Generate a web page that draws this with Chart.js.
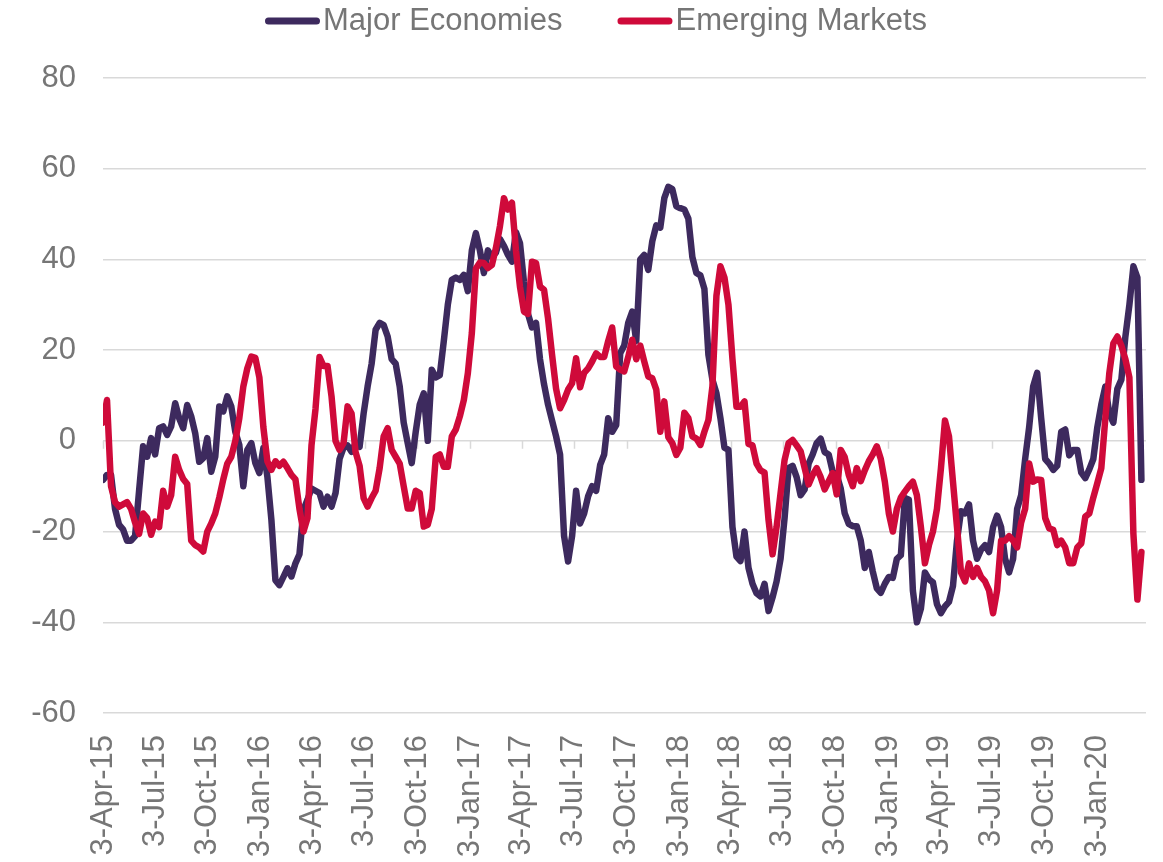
<!DOCTYPE html>
<html>
<head>
<meta charset="utf-8">
<script src="https://cdn.jsdelivr.net/npm/chart.js@4.4.1/dist/chart.umd.min.js"></script>
<style>
  html, body { margin: 0; padding: 0; background: #fff; }
  #wrap { width: 1163px; height: 862px; }
</style>
</head>
<body>
<div id="wrap"><canvas id="chart" width="1163" height="862"></canvas></div>
<script>
// weekly observations, first one on the start date
const startDate = '3-Apr-15';
const axisEnd = '28-Mar-20';

const majorEconomies = [
    -8.6, -7.5, -7.5, -15, -18.5, -19.5, -22, -22, -21, -11, -1.2, -3.5, 0.6,
    -3, 2.8, 3.2, 1.3, 3.2, 8.3, 5, 2.8, 7.9, 5.4, 1.7, -4.6, -3.8,
    0.6, -6.8, -3.5, 7.6, 6.5, 9.8, 7.6, 2, -0.9, -10, -2, -0.5, -4.9,
    -7.1, -1.6, -7.9, -17.4, -30.7, -31.8, -30, -28.1, -29.9, -27, -25, -15.2, -13,
    -10.5, -11, -11.5, -14.5, -12.3, -14.5, -11.5, -4, -1.5, -1, -2.4, -0.5, -1.3,
    6, 12, 17, 24.5, 26, 25.5, 23, 18, 17, 12, 4, -0.5, -4.9,
    2, 8, 10.5, 0, 15.7, 14, 14.5, 22, 30, 35.5, 36, 35.5, 36.6,
    33, 42, 45.8, 42, 37, 42, 40.5, 41.5, 44.5, 43, 41, 39.5, 46,
    43.6, 35, 28, 25, 26, 18, 12.5, 8, 4.5, 1, -3, -21, -26.6,
    -21, -11, -18.2, -16, -12.2, -10, -11, -5.3, -3, 5, 2, 3.5, 19.3,
    21, 26, 28.5, 22, 40, 41, 37.7, 44, 47.5, 47, 53.5, 56, 55.5,
    51.7, 51.3, 51, 49, 40.5, 37, 36.5, 33.5, 19, 13.5, 10.5, 5, -1.5,
    -2, -19, -25.5, -26.5, -20, -28, -31.5, -33.6, -34.3, -31.5, -37.5, -34.5, -31,
    -26, -17, -6, -5.5, -8, -12, -10.7, -5, -3, -0.5, 0.5, -2.5, -3,
    -6.8, -7.5, -10.5, -16, -18.3, -18.8, -18.8, -22, -28, -24.5, -28.8, -32.5, -33.5,
    -31.5, -30, -30.2, -26, -25.2, -12.6, -13, -33, -40, -37, -29, -30.5, -31.2,
    -36, -38, -36.5, -35.5, -32, -22, -15.5, -16, -14, -22, -26, -24, -23,
    -24.5, -19, -16.5, -19, -26, -29, -26, -15, -12, -4, 3, 12, 15,
    5, -4, -5, -6.4, -5.5, 2, 2.5, -3.2, -2, -2, -7, -8.2, -6.3,
    -4, 3, 8, 12, 6, 4, 11.5, 13.5, 23, 30, 38.5, 36, -8.6
];

const emergingMarkets = [
    4, 9, -10, -13.5, -14.5, -14, -13.5, -15, -18, -20.5, -16, -17, -20.7,
    -17.8, -19, -11, -14.5, -12, -3.5, -6.4, -8.4, -9.5, -22, -23, -23.5, -24.4,
    -20, -18.2, -16, -12.5, -8.5, -5, -3.5, 0, 5, 12, 16, 18.6, 18.3,
    14, 3, -4.5, -6.4, -4.5, -5.5, -4.6, -6, -7.5, -8.5, -15, -20, -17,
    -1, 7, 18.5, 16.5, 16.5, 9.8, 0, -2, -0.5, 7.6, 6, -2.5, -5.5,
    -12.6, -14.5, -12.6, -11, -6, 1, 2.8, -2, -3.5, -5, -10, -14.9, -14.9,
    -11, -11.5, -18.9, -18.5, -15, -3.5, -3, -5.7, -5.7, 1, 2.5, 5.4, 9,
    14.9, 23.8, 38, 39.3, 39.2, 38.1, 38.8, 42.5, 47.3, 53.5, 51, 52.5, 42,
    34, 28.5, 28, 39.5, 39.2, 34, 33.3, 27, 19, 11.5, 7.2, 9, 11.3,
    12.7, 18.2, 11.8, 15, 16, 17.5, 19.3, 18.5, 18.5, 22, 25, 16.4, 15.7,
    15.3, 18.5, 22.3, 18, 21, 17.5, 14.2, 13.8, 11.3, 2, 8.7, 0.8, -0.5,
    -3.1, -1.5, 6.2, 5, 1, 0.5, -0.9, 2, 4.6, 12, 32, 38.5, 36,
    30, 18, 7.5, 7.5, 8.7, -0.7, -1, -5, -6.5, -7, -17.5, -25, -19,
    -11.5, -4.2, -0.5, 0.2, -1, -2.3, -6, -9.6, -7.5, -6, -8, -10.7, -8.9,
    -7.1, -11.8, -2, -3.6, -7.5, -10, -6, -8.9, -6.5, -4.5, -3, -1.2, -4,
    -9, -16, -20, -15, -12.5, -11.2, -10, -9, -12, -19, -27, -23, -20,
    -15, -6, 4.5, 1, -9, -19, -29, -31, -27, -30, -28, -30, -31,
    -33, -38, -33, -22, -22, -21, -22, -23.5, -18, -15, -5, -9, -8.5,
    -8.6, -17, -19.3, -19.6, -23, -22, -23.5, -27, -27, -23.5, -22.6, -16.7, -16,
    -12.5, -9.3, -6, 5, 15, 21.5, 23, 21, 18, 14, -20.5, -35, -24.5
];

const tickLabels = [
    '3-Apr-15', '3-Jul-15', '3-Oct-15', '3-Jan-16', '3-Apr-16', '3-Jul-16', '3-Oct-16',
    '3-Jan-17', '3-Apr-17', '3-Jul-17', '3-Oct-17', '3-Jan-18', '3-Apr-18', '3-Jul-18',
    '3-Oct-18', '3-Jan-19', '3-Apr-19', '3-Jul-19', '3-Oct-19', '3-Jan-20'
];

const MONTHS = ['Jan','Feb','Mar','Apr','May','Jun','Jul','Aug','Sep','Oct','Nov','Dec'];
const DAY = 86400000;

function parseDate(s) {
    const [d, m, y] = s.split('-');
    return Date.UTC(2000 + Number(y), MONTHS.indexOf(m), Number(d));
}
const t0 = parseDate(startDate);
function dayOffset(s) {
    return Math.round((parseDate(s) - t0) / DAY);
}

const weekDays = majorEconomies.map((_, i) => i * 7);
const tickDays = tickLabels.map(dayOffset);
const labelByDay = {};
tickDays.forEach((d, i) => labelByDay[d] = tickLabels[i]);

const FONT = '"Liberation Sans", Arial, sans-serif';
const TEXT = '#767676';
const GRID = '#d9d9d9';

const toPoints = arr => arr.map((v, i) => ({ x: weekDays[i], y: v }));

// legend at the top, sample line + label, like the Excel original
const topLegend = {
    id: 'topLegend',
    afterDraw(chart) {
        const ctx = chart.ctx;
        const sample = 55, gap = 3, spacing = 55, cy = 21;
        ctx.save();
        ctx.font = '31px ' + FONT;
        ctx.textBaseline = 'middle';
        const items = chart.data.datasets.map(ds => ({
            text: ds.label, color: ds.borderColor, w: ctx.measureText(ds.label).width
        }));
        const total = items.reduce((s, it) => s + sample + gap + it.w, 0) + spacing * (items.length - 1);
        let x = 596 - total / 2;
        items.forEach(it => {
            ctx.strokeStyle = it.color;
            ctx.lineWidth = 7;
            ctx.lineCap = 'round';
            ctx.beginPath();
            ctx.moveTo(x + 3.5, cy);
            ctx.lineTo(x + sample - 3.5, cy);
            ctx.stroke();
            ctx.fillStyle = TEXT;
            ctx.fillText(it.text, x + sample + gap, cy);
            x += sample + gap + it.w + spacing;
        });
        ctx.restore();
    }
};

// small tick marks hanging off the zero line
const zeroTicks = {
    id: 'zeroTicks',
    beforeDatasetsDraw(chart) {
        const xs = chart.scales.x, ys = chart.scales.y;
        const y0 = ys.getPixelForValue(0);
        const ctx = chart.ctx;
        ctx.save();
        ctx.strokeStyle = GRID;
        ctx.lineWidth = 1.5;
        ctx.beginPath();
        tickDays.forEach(d => {
            const px = Math.round(xs.getPixelForValue(d)) + 0.5;
            ctx.moveTo(px, y0);
            ctx.lineTo(px, y0 + 8);
        });
        ctx.stroke();
        ctx.restore();
    }
};

new Chart(document.getElementById('chart').getContext('2d'), {
    type: 'line',
    data: {
        datasets: [
            { label: 'Major Economies', data: toPoints(majorEconomies), borderColor: '#3d2a5e', order: 2 },
            { label: 'Emerging Markets', data: toPoints(emergingMarkets), borderColor: '#cf0a3a', order: 1 }
        ].map(d => ({
            ...d,
            borderWidth: 6.5,
            pointRadius: 0,
            tension: 0,
            fill: false,
            borderJoinStyle: 'round',
            borderCapStyle: 'round'
        }))
    },
    options: {
        responsive: false,
        animation: false,
        devicePixelRatio: 1,
        layout: { padding: { top: 78, right: 17, bottom: 0, left: 0 } },
        plugins: {
            legend: { display: false },
            tooltip: { enabled: false }
        },
        scales: {
            x: {
                type: 'linear',
                min: 0,
                max: dayOffset(axisEnd),
                afterFit: s => { s.height = 149; },
                grid: { display: false, drawTicks: false },
                border: { display: false },
                afterBuildTicks: s => { s.ticks = tickDays.map(v => ({ value: v })); },
                ticks: {
                    autoSkip: false,
                    maxRotation: 90,
                    minRotation: 90,
                    padding: 22,
                    color: TEXT,
                    font: { family: FONT, size: 31 },
                    callback: v => labelByDay[v] || ''
                }
            },
            y: {
                min: -60,
                max: 80,
                afterFit: s => { s.width = 103; },
                grid: { color: GRID, lineWidth: 1.5, drawTicks: false },
                border: { display: false },
                ticks: {
                    stepSize: 20,
                    padding: 27,
                    color: TEXT,
                    font: { family: FONT, size: 31 }
                }
            }
        }
    },
    plugins: [topLegend, zeroTicks]
});
</script>
</body>
</html>
